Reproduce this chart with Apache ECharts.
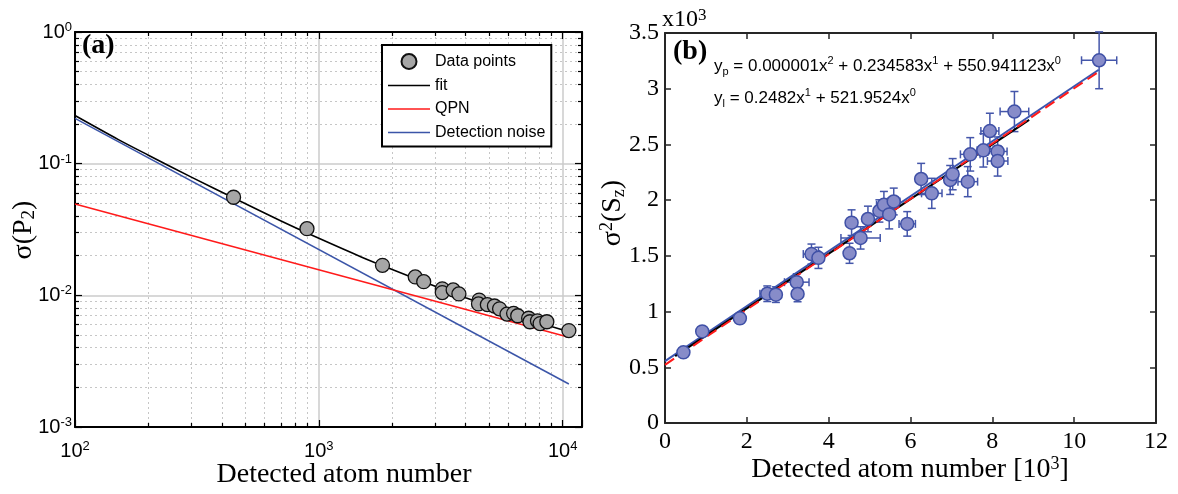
<!DOCTYPE html>
<html><head><meta charset="utf-8">
<script src="https://cdn.jsdelivr.net/npm/echarts@6/dist/echarts.min.js"></script>
<style>html,body{margin:0;padding:0;background:#fff}#c{width:1178px;height:494px}</style>
</head><body><div id="c"></div>
<script>
// ---------- Panel (a): sigma(P2) vs detected atom number (log-log) ----------
const atomsA = [447, 894, 1824, 2485, 2692, 3207, 3207, 3555, 3753, 4543, 4516, 4910, 5250, 5510, 5910, 6290, 6540, 7250, 7340, 7880, 8080, 8610, 10600];
const sigmaP2 = [0.0556, 0.0321, 0.0169, 0.0138, 0.0127, 0.0112, 0.0105, 0.0110, 0.01025, 0.0092, 0.0086, 0.0085, 0.0083, 0.0079, 0.0072, 0.0073, 0.0070, 0.0067, 0.0063, 0.0064, 0.0061, 0.0063, 0.0054];
const fitN = [100, 150, 200, 300, 450, 700, 1000, 1500, 2000, 3000, 4000, 6000, 8000, 10600];
const fitSigma = [0.232, 0.153, 0.116, 0.079, 0.0546, 0.0367, 0.0271, 0.0195, 0.0157, 0.0117, 0.0096, 0.0074, 0.0062, 0.0053];
const qpnN = [100, 10600];
const qpnSigma = [0.0494, 0.0048];
const detN = [100, 10600];
const detSigma = [0.221, 0.00212];
const minorTicksX = [200, 300, 400, 500, 600, 700, 800, 900, 2000, 3000, 4000, 5000, 6000, 7000, 8000, 9000];
const minorTicksY = [0.002, 0.003, 0.004, 0.005, 0.006, 0.007, 0.008, 0.009, 0.02, 0.03, 0.04, 0.05, 0.06, 0.07, 0.08, 0.09, 0.2, 0.3, 0.4, 0.5, 0.6, 0.7, 0.8, 0.9];
const legendNames = ['Data points', 'fit', 'QPN', 'Detection noise'];

// ---------- Panel (b): variance vs detected atom number [10^3] ----------
const atomsB = [0.45, 0.91, 1.83, 2.50, 2.71, 3.22, 3.24, 3.58, 3.75, 4.51, 4.56, 4.78, 4.96, 5.24, 5.35, 5.48, 5.59, 5.92, 6.26, 6.52, 6.97, 7.03, 7.40, 7.46, 7.78, 7.94, 8.13, 8.13, 8.54, 10.61];
const varSz = [0.634, 0.822, 0.939, 1.160, 1.152, 1.264, 1.158, 1.516, 1.482, 1.523, 1.798, 1.661, 1.831, 1.903, 1.958, 1.872, 1.988, 1.787, 2.190, 2.061, 2.181, 2.233, 2.166, 2.411, 2.447, 2.620, 2.437, 2.351, 2.795, 3.255];
const xErr = [0.05, 0.06, 0.10, 0.18, 0.12, 0.30, 0.08, 0.20, 0.12, 0.08, 0.08, 0.48, 0.10, 0.10, 0.18, 0.12, 0.15, 0.20, 0.12, 0.25, 0.12, 0.12, 0.24, 0.24, 0.15, 0.22, 0.23, 0.25, 0.35, 0.43];
const yErr = [0.03, 0.03, 0.045, 0.07, 0.07, 0.075, 0.07, 0.09, 0.095, 0.09, 0.115, 0.10, 0.115, 0.10, 0.12, 0.13, 0.12, 0.11, 0.14, 0.135, 0.13, 0.14, 0.135, 0.15, 0.15, 0.16, 0.13, 0.135, 0.18, 0.255];
const blueFitX = [0, 10.6];
const blueFitY = [0.555, 3.17];
const polyFitX = [0.25, 8.9];
const polyFitY = [0.60, 2.72];
const linFitX = [0, 10.55];
const linFitY = [0.522, 3.14];
const eqPoly = '{t|y}{sb|p}{t| = 0.000001x}{sp|2}{t| + 0.234583x}{sp|1}{t| + 550.941123x}{sp|0}';
const eqLin = '{t|y}{sb|l}{t| = 0.2482x}{sp|1}{t| + 521.9524x}{sp|0}';

const SERIF = "'Liberation Serif', 'Times New Roman', serif";
const SANS = "'Liberation Sans', Arial, sans-serif";
const zip = (a, b) => a.map((v, i) => [v, b[i]]);
const LINE_ICON = 'path://M0,0H42V1.6H0Z';

function powLabel(v) {
  const e = Math.log10(v), r = Math.round(e);
  if (Math.abs(e - r) > 1e-6) return '';
  return '{b|10}{s|' + r + '}';
}
const powRich = {
  b: { fontFamily: SANS, fontSize: 20, lineHeight: 22, color: '#000' },
  s: { fontFamily: SANS, fontSize: 13, lineHeight: 10, verticalAlign: 'top', color: '#000' }
};

function logAxis(pos, min, max, major, extra) {
  const base = {
    gridIndex: 0, type: 'log', logBase: 10, min: min, max: max, position: pos,
    axisLine: { show: major, onZero: false, lineStyle: { color: '#000', width: 2 } },
    axisTick: { show: true, inside: true, length: major ? 7 : 4, lineStyle: { color: '#000', width: 1.2 } },
    axisLabel: { show: false },
    splitLine: { show: false },
    z: major ? 3 : 2
  };
  return Object.assign(base, extra || {});
}

const xAxes = [
  logAxis('bottom', 100, 12000, true, {
    axisLabel: { show: true, formatter: powLabel, margin: 13, rich: powRich },
    splitLine: { show: true, lineStyle: { color: '#cbcbcb', width: 1.5 } }
  }),
  logAxis('bottom', 100, 12000, false, {
    axisTick: { show: true, inside: true, length: 4, customValues: minorTicksX, lineStyle: { color: '#000', width: 1.2 } },
    splitLine: { show: true, lineStyle: { color: '#c6c6c6', width: 1, type: [2, 3] } }
  }),
  logAxis('top', 100, 12000, true),
  logAxis('top', 100, 12000, false, {
    axisTick: { show: true, inside: true, length: 4, customValues: minorTicksX, lineStyle: { color: '#000', width: 1.2 } }
  })
];
const yAxes = [
  logAxis('left', 0.001, 1, true, {
    axisLabel: { show: true, formatter: powLabel, margin: 3, rich: powRich },
    splitLine: { show: true, lineStyle: { color: '#cbcbcb', width: 1.5 } }
  }),
  logAxis('left', 0.001, 1, false, {
    axisTick: { show: true, inside: true, length: 4, customValues: minorTicksY, lineStyle: { color: '#000', width: 1.2 } },
    splitLine: { show: true, lineStyle: { color: '#c6c6c6', width: 1, type: [2, 3] } }
  }),
  logAxis('right', 0.001, 1, true),
  logAxis('right', 0.001, 1, false, {
    axisTick: { show: true, inside: true, length: 4, customValues: minorTicksY, lineStyle: { color: '#000', width: 1.2 } }
  })
];

function linAxis(pos, min, max, interval, labels, margin) {
  return {
    gridIndex: 1, type: 'value', min: min, max: max, interval: interval, position: pos,
    axisLine: { show: true, onZero: false, lineStyle: { color: '#262626', width: 2 } },
    axisTick: { show: true, inside: true, length: 6, lineStyle: { color: '#262626', width: 1.5 } },
    axisLabel: { show: labels, margin: margin, color: '#000', fontFamily: SERIF, fontSize: 24 },
    splitLine: { show: false }
  };
}
xAxes.push(linAxis('bottom', 0, 12, 2, true, 7), linAxis('top', 0, 12, 2, false, 7));
yAxes.push(linAxis('left', 0, 3.5, 0.5, true, 6), linAxis('right', 0, 3.5, 0.5, false, 6));

const errData = atomsB.map((x, i) => [x, varSz[i], xErr[i], yErr[i]]);

const option = {
  animation: false,
  backgroundColor: '#fff',
  grid: [
    { left: 75, top: 32, width: 507, height: 395 },
    { left: 665, top: 33, width: 491, height: 390 }
  ],
  xAxis: xAxes,
  yAxis: yAxes,
  legend: {
    data: legendNames.map((n, i) => i === 0 ? { name: n, icon: 'circle' } : { name: n, icon: LINE_ICON }),
    orient: 'vertical', left: 382, top: 45,
    itemWidth: 42, itemHeight: 15, itemGap: 7.5, padding: [8, 6, 6, 6],
    symbolKeepAspect: true,
    borderColor: '#000', borderWidth: 2, backgroundColor: '#fff',
    selectedMode: false,
    textStyle: { fontFamily: SANS, fontSize: 16, color: '#000' }, z: 10
  },
  series: [
    { name: 'Detection noise', type: 'line', xAxisIndex: 0, yAxisIndex: 0, data: zip(detN, detSigma),
      symbol: 'none', lineStyle: { color: '#3b55a8', width: 1.5 }, itemStyle: { color: '#3b55a8' }, z: 3 },
    { name: 'QPN', type: 'line', xAxisIndex: 0, yAxisIndex: 0, data: zip(qpnN, qpnSigma),
      symbol: 'none', lineStyle: { color: '#ff1a1a', width: 1.5 }, itemStyle: { color: '#ff1a1a' }, z: 3 },
    { name: 'fit', type: 'line', xAxisIndex: 0, yAxisIndex: 0, data: zip(fitN, fitSigma), smooth: 0.3,
      symbol: 'none', lineStyle: { color: '#000', width: 1.6 }, itemStyle: { color: '#000' }, z: 4 },
    { name: 'Data points', type: 'scatter', xAxisIndex: 0, yAxisIndex: 0, data: zip(atomsA, sigmaP2),
      symbol: 'circle', symbolSize: 14,
      itemStyle: { color: '#a6a6a6', borderColor: '#111', borderWidth: 1.3, opacity: 1 }, z: 5 },

    { name: 'errorbars', type: 'custom', xAxisIndex: 4, yAxisIndex: 4, data: errData, z: 3,
      encode: { x: 0, y: 1 },
      renderItem: function (params, api) {
        const x = api.value(0), y = api.value(1), ex = api.value(2), ey = api.value(3);
        const c = api.coord([x, y]);
        const l = api.coord([x - ex, y]), r = api.coord([x + ex, y]);
        const t = api.coord([x, y + ey]), b = api.coord([x, y - ey]);
        const cap = 4;
        const st = { stroke: '#4456aa', lineWidth: 1.5, fill: null };
        const ln = (x1, y1, x2, y2) => ({ type: 'line', shape: { x1, y1, x2, y2 }, style: st });
        return { type: 'group', children: [
          ln(l[0], c[1], r[0], c[1]),
          ln(l[0], c[1] - cap, l[0], c[1] + cap),
          ln(r[0], c[1] - cap, r[0], c[1] + cap),
          ln(c[0], t[1], c[0], b[1]),
          ln(c[0] - cap, t[1], c[0] + cap, t[1]),
          ln(c[0] - cap, b[1], c[0] + cap, b[1])
        ] };
      }
    },
    { name: 'linear fit (blue)', type: 'line', xAxisIndex: 4, yAxisIndex: 4, data: zip(blueFitX, blueFitY),
      symbol: 'none', lineStyle: { color: '#3b55b0', width: 2 }, z: 4 },
    { name: 'y_p', type: 'line', xAxisIndex: 4, yAxisIndex: 4, data: zip(polyFitX, polyFitY),
      symbol: 'none', lineStyle: { color: '#000', width: 2 }, z: 4 },
    { name: 'y_l', type: 'line', xAxisIndex: 4, yAxisIndex: 4, data: zip(linFitX, linFitY),
      symbol: 'none', lineStyle: { color: '#ff1a1a', width: 2, type: [11, 6] }, z: 4 },
    { name: 'sigma2 points', type: 'scatter', xAxisIndex: 4, yAxisIndex: 4, data: zip(atomsB, varSz),
      symbol: 'circle', symbolSize: 13,
      itemStyle: { color: '#878cc9', borderColor: '#3f50a6', borderWidth: 1.5, opacity: 1 }, z: 5 }
  ],
  graphic: [
    { type: 'text', x: 82, y: 46, z: 20,
      style: { text: '(a)', fontFamily: SERIF, fontWeight: 'bold', fontSize: 28, fill: '#000', align: 'left', verticalAlign: 'middle' } },
    { type: 'text', x: 673, y: 52, z: 20,
      style: { text: '(b)', fontFamily: SERIF, fontWeight: 'bold', fontSize: 28, fill: '#000', align: 'left', verticalAlign: 'middle' } },
    { type: 'text', x: 344, y: 475,
      style: { text: 'Detected atom number', fontFamily: SERIF, fontSize: 28, fill: '#000', align: 'center', verticalAlign: 'middle' } },
    { type: 'text', x: 24, y: 230, rotation: Math.PI / 2,
      style: { text: '{t|σ(P}{sb|2}{t|)}', align: 'center', verticalAlign: 'middle',
        rich: { t: { fontFamily: SERIF, fontSize: 28, lineHeight: 30, fill: '#000' },
                sb: { fontFamily: SERIF, fontSize: 19, lineHeight: 12, verticalAlign: 'bottom', fill: '#000' } } } },
    { type: 'text', x: 910, y: 470,
      style: { text: '{t|Detected atom number [10}{sp|3}{t|]}', align: 'center', verticalAlign: 'middle',
        rich: { t: { fontFamily: SERIF, fontSize: 28, lineHeight: 30, fill: '#000' },
                sp: { fontFamily: SERIF, fontSize: 18, lineHeight: 12, verticalAlign: 'top', fill: '#000' } } } },
    { type: 'text', x: 613, y: 213, rotation: Math.PI / 2,
      style: { text: '{t|σ}{sp|2}{t|(S}{sb|z}{t|)}', align: 'center', verticalAlign: 'middle',
        rich: { t: { fontFamily: SERIF, fontSize: 28, lineHeight: 30, fill: '#000' },
                sp: { fontFamily: SERIF, fontSize: 18, lineHeight: 12, verticalAlign: 'top', fill: '#000' },
                sb: { fontFamily: SERIF, fontSize: 18, lineHeight: 12, verticalAlign: 'bottom', fill: '#000' } } } },
    { type: 'text', x: 662, y: 20,
      style: { text: '{b|x10}{s|3}', align: 'left', verticalAlign: 'middle',
        rich: { b: { fontFamily: SERIF, fontSize: 24, lineHeight: 26, fill: '#000' },
                s: { fontFamily: SERIF, fontSize: 17, lineHeight: 12, verticalAlign: 'top', fill: '#000' } } } },
    { type: 'text', x: 714, y: 66, z: 20,
      style: { text: eqPoly, align: 'left', verticalAlign: 'middle',
        rich: { t: { fontFamily: SANS, fontSize: 17, lineHeight: 22, fill: '#000' },
                sp: { fontFamily: SANS, fontSize: 11, lineHeight: 10, verticalAlign: 'top', fill: '#000' },
                sb: { fontFamily: SANS, fontSize: 11, lineHeight: 10, verticalAlign: 'bottom', fill: '#000' } } } },
    { type: 'text', x: 714, y: 98, z: 20,
      style: { text: eqLin, align: 'left', verticalAlign: 'middle',
        rich: { t: { fontFamily: SANS, fontSize: 17, lineHeight: 22, fill: '#000' },
                sp: { fontFamily: SANS, fontSize: 11, lineHeight: 10, verticalAlign: 'top', fill: '#000' },
                sb: { fontFamily: SANS, fontSize: 11, lineHeight: 10, verticalAlign: 'bottom', fill: '#000' } } } }
  ]
};

const chart = echarts.init(document.getElementById('c'), null, { renderer: 'canvas' });
chart.setOption(option);
</script>
</body></html>
